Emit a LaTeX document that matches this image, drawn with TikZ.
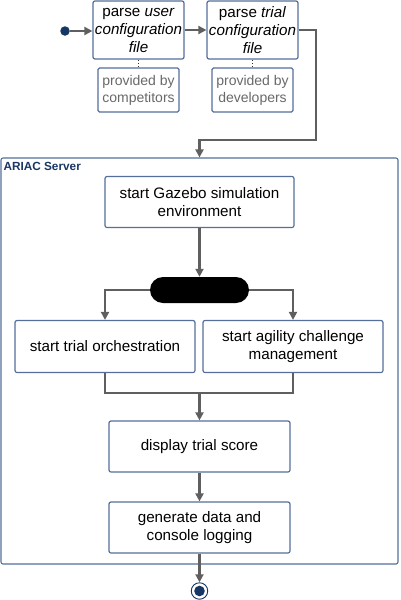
\documentclass[tikz,border=0pt]{standalone}
\usepackage{fontspec}
\setmainfont{Liberation Sans}
\usetikzlibrary{arrows.meta,shapes.misc}
\definecolor{boxblue}{RGB}{85,110,155}
\definecolor{flowgray}{RGB}{95,95,95}
\definecolor{dotblue}{RGB}{22,55,100}
\definecolor{lblblue}{RGB}{25,55,100}
\definecolor{notegray}{RGB}{105,105,105}
\begin{document}
\begin{tikzpicture}[x=1pt,y=-1pt,
  actbox/.style={draw=boxblue, line width=1.2pt, rounded corners=2pt, fill=white,
    align=center, inner sep=1pt, font=\fontsize{15.2}{18}\selectfont},
  notebox/.style={draw=boxblue, line width=1.1pt, rounded corners=1.5pt, fill=white,
    align=center, inner sep=1pt, text=notegray, font=\fontsize{14}{17}\selectfont,
    minimum width=81pt, minimum height=44pt},
  flow/.style={draw=flowgray, line width=2.4pt, -{Triangle[length=8pt,width=8pt]}},
  flowline/.style={draw=flowgray, line width=2.4pt},
  dotlink/.style={draw=black!80, line width=1.2pt, dotted}]
\useasboundingbox (0,0) rectangle (400,600);

% container
\node[draw=boxblue, line width=1.1pt, rounded corners=2pt, minimum width=397pt,
  minimum height=406pt, inner sep=0] (srv) at (199.5,361) {};
\node[anchor=base west, inner sep=0, text=lblblue,
  font=\fontsize{11.8}{13}\selectfont\bfseries] (srvlbl) at (3.3,170) {ARIAC Server};

% top row
\node[circle, fill=dotblue, minimum size=9.5pt, inner sep=0] (start) at (65,31) {};
\node[actbox, minimum width=91pt, minimum height=58pt] (b1) at (138.5,30)
  {parse \textit{user}\\ \textit{configuration}\\ \textit{file}};
\node[actbox, minimum width=91pt, minimum height=58pt] (b2) at (252.5,30)
  {parse \textit{trial}\\ \textit{configuration}\\ \textit{file}};
\node[notebox] (n1) at (138.5,90) {provided by\\ competitors};
\node[notebox] (n2) at (252.5,90) {provided by\\ developers};

% inner flow
\node[actbox, minimum width=189pt, minimum height=51pt] (gaz) at (199.5,202)
  {start Gazebo simulation\\ environment};
\node[rounded rectangle, fill=black, minimum width=99pt, minimum height=26pt,
  inner sep=0] (bar) at (199.5,290) {};
\node[actbox, minimum width=180pt, minimum height=52pt] (orch) at (105,346.5)
  {start trial orchestration};
\node[actbox, minimum width=180pt, minimum height=52pt] (agil) at (293,346.5)
  {start agility challenge\\ management};
\node[actbox, minimum width=181pt, minimum height=51pt] (disp) at (199.5,446.5)
  {display trial score};
\node[actbox, minimum width=181pt, minimum height=51pt] (gen) at (199.5,527.5)
  {generate data and\\ console logging};
\node[circle, draw=dotblue, line width=0.9pt, fill=white, minimum size=16.5pt,
  inner sep=0] (end) at (199.5,591) {};
\fill[dotblue] (end.center) circle (5.3pt);

\coordinate (k1) at (316,140);
\coordinate (m) at (199.5,393);

% connectors
\draw[flow] (start.east) -- (start.east -| b1.west);
\draw[flow] (b1) -- (b2);
\draw[dotlink] (b1.south) -- (n1.north);
\draw[dotlink] (b2.south) -- (n2.north);
\draw[flow] (b2.east) -| (k1) -| (srv.north);
\draw[flow] (gaz) -- (bar);
\draw[flow] (bar.west) -| (orch.north);
\draw[flow] (bar.east) -| (agil.north);
\draw[flowline] (orch.south) |- (m) -| (agil.south);
\draw[flow] (m) -- (disp);
\draw[flow] (disp) -- (gen);
\draw[flow] (gen) -- (end);
\end{tikzpicture}
\end{document}
